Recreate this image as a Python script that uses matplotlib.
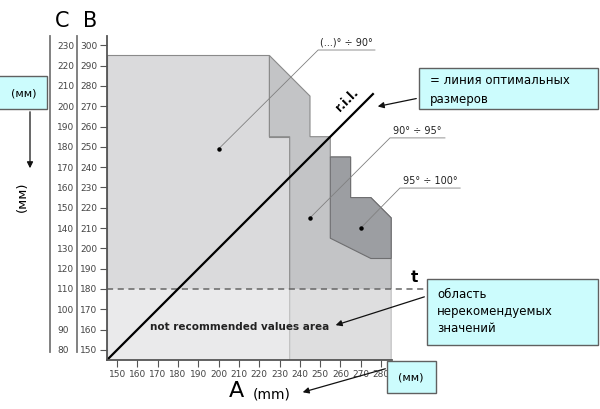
import numpy as np
import matplotlib
matplotlib.use("Agg")
import matplotlib.pyplot as plt
from matplotlib.patches import Polygon, Rectangle, FancyArrowPatch

# ===============================
# DATA
# ===============================
a_ticks = list(range(150, 290, 10))
b_ticks = list(range(150, 310, 10))
c_offset = 70  # C = B - 70

# zones (A, B) vertices
zone_90 = [(145, 145), (145, 295), (225, 295), (225, 255), (235, 255), (235, 145)]
zone_95 = [(225, 295), (245, 275), (245, 255), (255, 255), (255, 245), (265, 245),
           (265, 225), (275, 225), (285, 215), (285, 145), (235, 145), (235, 255),
           (225, 255)]
zone_100 = [(255, 245), (265, 245), (265, 225), (275, 225), (285, 215), (285, 195),
            (275, 195), (255, 205)]
t_level = 180
ril_end = 276

# leader lines: dot (A, B), elbow (A, B), end of underline A, label
leaders = [
    ((200, 249), (249, 297.7), 277, "(...)° ÷ 90°"),
    ((245, 215), (284.4, 254.4), 311.5, "90° ÷ 95°"),
    ((270, 210), (289.3, 229.7), 319, "95° ÷ 100°"),
]

W, H = 600, 409
fig = plt.figure(figsize=(6, 4.09), dpi=100)


def px(x, y):
    return (x / W, 1 - y / H)


ax = fig.add_axes([107 / W, 1 - 360 / H, 285 / W, 324 / H])
ax.set_xlim(145, 285.4)
ax.set_ylim(145, 304.6)

ax.add_patch(Polygon(zone_90, closed=True, fc="#dadadc", ec="#8a8a8a", lw=0.8))
ax.add_patch(Polygon(zone_95, closed=True, fc="#c3c4c6", ec="#8a8a8a", lw=0.8))
ax.add_patch(Polygon(zone_100, closed=True, fc="#9c9ea2", ec="#6e6e70", lw=0.8))
ax.add_patch(Rectangle((145, 145), 140.4, t_level - 145, fc="white", alpha=0.45, ec="none"))

# t line
ax.plot([145, 302.6], [t_level, t_level], ls=(0, (4, 3)), color="#666666", lw=1.1, clip_on=False)
ax.text(296.5, t_level + 2, "t", fontsize=11, fontweight="bold", ha="center", va="bottom")

# r.i.l. line
ax.plot([145, ril_end], [145, ril_end], color="black", lw=1.6)
ax.text(263, 273, "r.i.l.", fontsize=9, fontweight="bold", rotation=45,
        ha="center", va="center")

ax.text(210.5, 161.5, "not recommended values area", fontsize=7.5, fontweight="bold",
        ha="center", va="center", color="#222222")

for dot, elbow, uend, label in leaders:
    ax.plot([dot[0], elbow[0], uend], [dot[1], elbow[1], elbow[1]],
            color="#808080", lw=0.6, clip_on=False)
    ax.plot(*dot, "o", color="black", ms=2.2)
    ax.text((elbow[0] + uend) / 2, elbow[1] + 1, label, fontsize=7,
            ha="center", va="bottom", color="#222222")

# axes styling
for s in ["top", "right"]:
    ax.spines[s].set_visible(False)
for s in ["left", "bottom"]:
    ax.spines[s].set_color("#555555")
    ax.spines[s].set_linewidth(1.3)
ax.set_xticks(a_ticks)
ax.set_yticks(b_ticks)
ax.tick_params(axis="both", length=5, width=0.8, color="#555555",
               labelsize=6.5, labelcolor="#444444", pad=2)

# B line and C axis
sec_b = ax.secondary_yaxis(-0.105)
sec_b.set_yticks([])
sec_b.spines["left"].set_color("#777777")
sec_b.spines["left"].set_linewidth(1.3)
sec_b.spines["left"].set_bounds(149, 304.6)

sec_c = ax.secondary_yaxis(-0.2, functions=(lambda b: b - c_offset, lambda c: c + c_offset))
sec_c.set_alignment("right")
sec_c.set_yticks([b - c_offset for b in b_ticks])
sec_c.tick_params(length=0, labelsize=6.5, labelcolor="#444444", pad=5)
for s in sec_c.spines.values():
    s.set_color("#777777")
    s.set_linewidth(1.3)
    s.set_bounds(149 - c_offset, 304.6 - c_offset)

# axis letters
fig.text(*px(62, 21), "C", fontsize=15, ha="center", va="center")
fig.text(*px(90, 21), "B", fontsize=15, ha="center", va="center")
fig.text(*px(236, 391), "A", fontsize=16, ha="center", va="center")
fig.text(*px(272, 395), "(mm)", fontsize=10, ha="center", va="center")
fig.text(*px(22, 197), "(мм)", fontsize=9.5, ha="center", va="center", rotation=90)


# callout boxes
def box(x0, y0, x1, y1):
    fig.patches.append(Rectangle(px(x0, y1), (x1 - x0) / W, (y1 - y0) / H,
                                 transform=fig.transFigure, fc="#ccfcfd", ec="#606060",
                                 lw=1.0))


def arrow(x0, y0, x1, y1):
    fig.patches.append(FancyArrowPatch(px(x0, y0), px(x1, y1), transform=fig.transFigure,
                                       arrowstyle="-|>", mutation_scale=9, color="#111111",
                                       lw=0.9))


box(-2, 76, 47, 109)
fig.text(*px(24, 93), "(мм)", fontsize=8, ha="center", va="center")
arrow(30, 109, 30, 171)

box(419, 68, 598, 109)
fig.text(*px(430, 81), "= линия оптимальных", fontsize=8.5, ha="left", va="center")
fig.text(*px(430, 99), "размеров", fontsize=8.5, ha="left", va="center")
arrow(419, 98, 375, 107)

box(427, 279, 598, 345)
fig.text(*px(437, 294), "область", fontsize=8.5, ha="left", va="center")
fig.text(*px(437, 311), "нерекомендуемых", fontsize=8.5, ha="left", va="center")
fig.text(*px(437, 328), "значений", fontsize=8.5, ha="left", va="center")
arrow(427, 296, 333, 326)

box(387, 361, 436, 393)
fig.text(*px(411, 377), "(мм)", fontsize=8, ha="center", va="center")
arrow(388, 368, 300, 393)

fig.savefig("out.png", dpi=100)
